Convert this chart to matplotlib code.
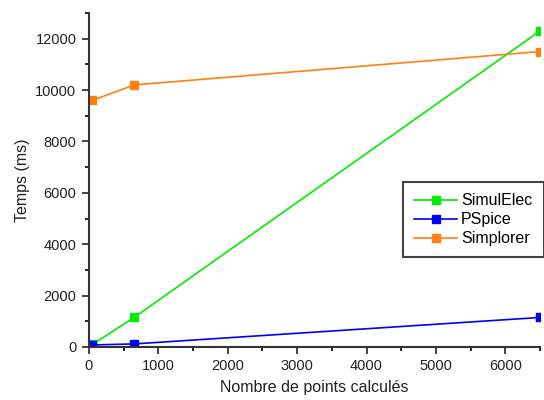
import matplotlib
matplotlib.use('Agg')
import matplotlib.pyplot as plt
from matplotlib.ticker import MultipleLocator

plt.rcParams['font.family'] = ['Liberation Sans', 'DejaVu Sans']

points = [50, 650, 6500]
simulelec = [100, 1150, 12300]
pspice = [80, 120, 1150]
simplorer = [9600, 10200, 11500]

def main():
    fig = plt.figure(figsize=(5.44, 4.0), dpi=100)
    ax = fig.add_axes([0.1636, 0.1325, 0.8290, 0.835])

    ax.plot(points, simulelec, '-s', color='#00ee00', lw=1.2, ms=6, label='SimulElec')
    ax.plot(points, pspice, '-s', color='#0000ff', lw=1.2, ms=6, label='PSpice')
    ax.plot(points, simplorer, '-s', color='#ff8010', lw=1.2, ms=6, label='Simplorer')

    ax.set_xlim(0, 6500)
    ax.set_ylim(0, 13000)
    ax.xaxis.set_major_locator(MultipleLocator(1000))
    ax.xaxis.set_minor_locator(MultipleLocator(500))
    ax.yaxis.set_major_locator(MultipleLocator(2000))
    ax.yaxis.set_minor_locator(MultipleLocator(1000))
    ax.tick_params(which='major', direction='out', length=5, width=1.2, labelsize=10.5,
                   colors='#222222', pad=4)
    ax.tick_params(which='minor', direction='out', length=3, width=1.2)

    for s in ['top', 'right']:
        ax.spines[s].set_visible(False)
    for s in ['left', 'bottom']:
        ax.spines[s].set_linewidth(1.5)
        ax.spines[s].set_color('#333333')

    ax.set_xlabel('Nombre de points calculés', fontsize=11.5, color='#222222', labelpad=5)
    ax.set_ylabel('Temps (ms)', fontsize=11.5, color='#222222', labelpad=4)

    leg = ax.legend(loc='upper left', bbox_to_anchor=(0.696, 0.494), fontsize=11.5,
                    fancybox=False, framealpha=1, edgecolor='#444444',
                    handlelength=2.7, borderpad=0.7, labelspacing=0.25,
                    handletextpad=0.25, borderaxespad=0)
    leg.get_frame().set_linewidth(1.5)
    leg.set_clip_on(False)

    fig.savefig('out.png', dpi=100)

if __name__ == '__main__':
    main()
